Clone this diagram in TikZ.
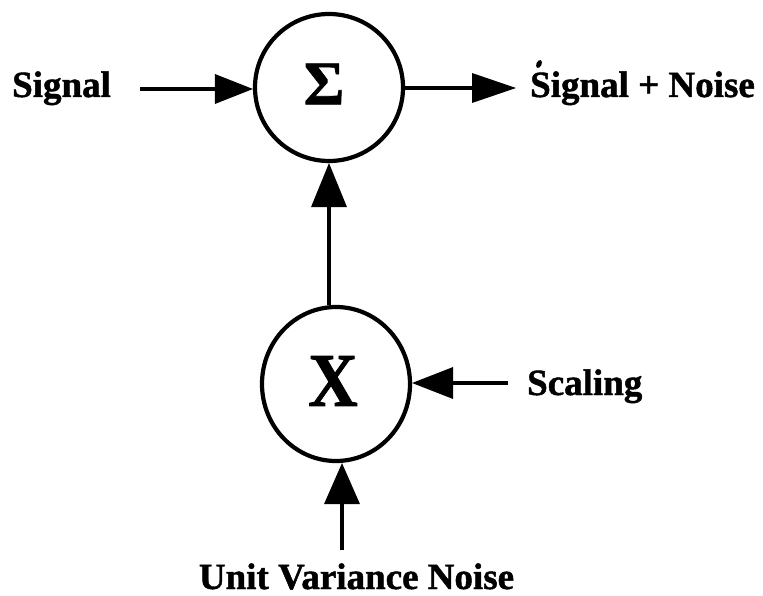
\documentclass[tikz,border=0pt]{standalone}
\usepackage{fontspec}
\setmainfont{Liberation Serif}[BoldFeatures={FakeBold=1.2}]
\usepackage{graphicx}
\usetikzlibrary{calc,shapes.geometric}

\tikzset{
  junction/.style={draw, ellipse, line width=4.2bp, inner sep=0pt},
  label text/.style={inner sep=0pt, font=\fontsize{37bp}{40bp}\selectfont\bfseries},
  wire/.style={line width=3.3bp},
}

% filled triangular head: tip point, direction angle, length, half width
\newcommand\headat[4]{%
  \fill (#1) -- ($(#1)+(#2+180:#3)+(#2+90:#4)$) -- ($(#1)+(#2+180:#3)+(#2-90:#4)$) -- cycle;}

\begin{document}
\begin{tikzpicture}[x=1bp, y=-1bp]
  \useasboundingbox (0,0) rectangle (763,596);

  % summing junction and multiplier
  \node[junction, minimum width=148bp, minimum height=147bp] (sum) at (329,87.5) {};
  \node[inner sep=0pt, font=\fontsize{62bp}{64bp}\selectfont\bfseries] (sigma) at (324,84) {Σ};
  \node[junction, minimum width=148bp, minimum height=154bp] (mul) at (336,384) {};
  \node[inner sep=0pt] (times) at (333,381)
    {\scalebox{0.9}[1]{\fontsize{76bp}{78bp}\selectfont\bfseries X}};

  % labels
  \node[label text, anchor=base west] (sig) at (12,97) {Signal};
  \node[label text, anchor=base west] (out) at (530,97) {Signal + Noise};
  \node[label text, anchor=base west] (scl) at (527,395) {Scaling};
  \node[label text, anchor=base] (noise) at (356.5,589) {Unit Variance Noise};

  % free ends of the connectors and arrow tips
  \coordinate (sigin) at (140,89);
  \coordinate (sigtip) at (sigin -| sum.west);
  \coordinate (sumout) at (516,88);
  \coordinate (sumtip) at (sumout -| sum.east);
  \coordinate (midtip) at (sum.south);
  \coordinate (midin) at (mul.north -| sum.south);
  \coordinate (sclin) at (508,383);
  \coordinate (scltip) at (sclin -| mul.east);
  \coordinate (noisein) at (342,550);
  \coordinate (noisetip) at (noisein |- mul.south);

  % connectors: shaft, then head
  \draw[wire] (sigin) -- ($(sigtip)+(-30,0)$);
  \headat{sigtip}{0}{38}{15}
  \draw[wire] (sumtip) -- ($(sumout)+(-36,0)$);
  \headat{sumout}{0}{44}{15}
  \draw[wire] (midin) -- ($(midtip)+(0,36)$);
  \headat{midtip}{-90}{44}{18}
  \draw[wire] (sclin) -- ($(scltip)+(33,0)$);
  \headat{scltip}{180}{41}{16}
  \draw[wire] (noisein) -- ($(noisetip)+(0,33)$);
  \headat{noisetip}{-90}{41}{18}

  % small ink mark above the S of the output label
  \fill[rotate around={-25:(539,64)}] (539,64) ellipse [x radius=2.6, y radius=4.2];
\end{tikzpicture}
\end{document}
